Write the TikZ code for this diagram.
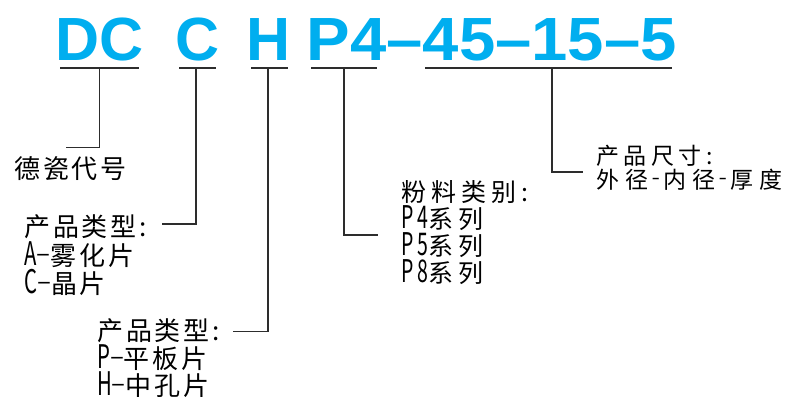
\documentclass[tikz,border=0pt]{standalone}
\usepackage{fontspec}
\setmainfont{Liberation Sans}
\newfontfamily\cjkfont{Noto Sans CJK SC}
\definecolor{titleblue}{RGB}{0,174,239}
\definecolor{linegray}{RGB}{45,45,45}
\newcommand\latc[1]{\scalebox{0.78}[1.25]{#1}}
\newcommand\dshA{\raisebox{0.1em}{–}}
\newcommand\dshC{\kern3.5pt\raisebox{0.12em}{\scalebox{0.6}[1]{–}}\kern3.5pt}
\newcommand\gapC{\kern6.5pt}
\tikzset{
  titletext/.style={inner sep=0pt, anchor=base west, text=titleblue,
    font=\fontsize{61}{61}\selectfont\bfseries},
  labA/.style={inner sep=0pt, anchor=base west, text=black,
    font=\cjkfont\fontsize{26}{28}\selectfont\addfontfeature{LetterSpace=11}},
  labB/.style={inner sep=0pt, anchor=base west, text=black,
    font=\cjkfont\fontsize{25}{27}\selectfont\addfontfeature{LetterSpace=20}},
  labC/.style={inner sep=0pt, anchor=base west, text=black,
    font=\cjkfont\fontsize{23}{24}\selectfont\addfontfeature{LetterSpace=20}},
  labCplain/.style={inner sep=0pt, anchor=base west, text=black,
    font=\cjkfont\fontsize{23}{24}\selectfont},
  conn/.style={draw=linegray, line width=1.2pt},
}
\begin{document}
\begin{tikzpicture}[x=1pt,y=-1pt]
\useasboundingbox (0,0) rectangle (800,396);
% title
\node[titletext] (tdc) at (55.5,61) {DC};
\node[titletext] (tc) at (175.5,61) {C};
\node[titletext] (th) at (246.5,61) {H};
\node[titletext] (tp) at (306.5,61) {\scalebox{1.07}[1]{P4–45–15–5}};
% underlines
\coordinate (u1l) at (60,68);  \coordinate (u1r) at (139,68);  \coordinate (u1m) at (99.5,68);
\coordinate (u2l) at (179,68); \coordinate (u2r) at (216,68);  \coordinate (u2m) at (196,68);
\coordinate (u3l) at (251,68); \coordinate (u3r) at (288,68);  \coordinate (u3m) at (268,68);
\coordinate (u4l) at (311,68); \coordinate (u4r) at (377,68);  \coordinate (u4m) at (344,68);
\coordinate (u5l) at (425,68); \coordinate (u5r) at (672,68);  \coordinate (u5m) at (552,68);
\draw[conn] (u1l) -- (u1r);
\draw[conn] (u2l) -- (u2r);
\draw[conn] (u3l) -- (u3r);
\draw[conn] (u4l) -- (u4r);
\draw[conn] (u5l) -- (u5r);
% end points
\coordinate (e1) at (66,147.5);
\coordinate (e2) at (162,224);
\coordinate (e3) at (233,331.5);
\coordinate (e4) at (378,235);
\coordinate (e5) at (583,172);
\draw[conn] (u1m) |- (e1);
\draw[conn] (u2m) |- (e2);
\draw[conn] (u3m) |- (e3);
\draw[conn] (u4m) |- (e4);
\draw[conn] (u5m) |- (e5);
% labels
\node[labA] (l1) at (14,178) {德瓷代号};
\node[labA] (l2a) at (24,236) {产品类型:};
\node[labA] (l2b) at (24,265) {\latc{A}\dshA 雾化片};
\node[labA] (l2c) at (24,293) {\latc{C}\dshA 晶片};
\node[labA] (l3a) at (97,340) {产品类型:};
\node[labA] (l3b) at (97,368) {\latc{P}\dshA 平板片};
\node[labA] (l3c) at (97,395) {\latc{H}\dshA 中孔片};
\node[labB] (l4a) at (401,201) {粉料类别:};
\node[labB] (l4b) at (401,228) {\latc{P4}系列};
\node[labB] (l4c) at (401,255) {\latc{P5}系列};
\node[labB] (l4d) at (401,282) {\latc{P8}系列};
\node[labC] (l5a) at (596,164) {产品尺寸:};
\node[labCplain] (l5b) at (596,188) {外\gapC 径\dshC 内\gapC 径\dshC 厚\gapC 度};
\end{tikzpicture}
\end{document}
